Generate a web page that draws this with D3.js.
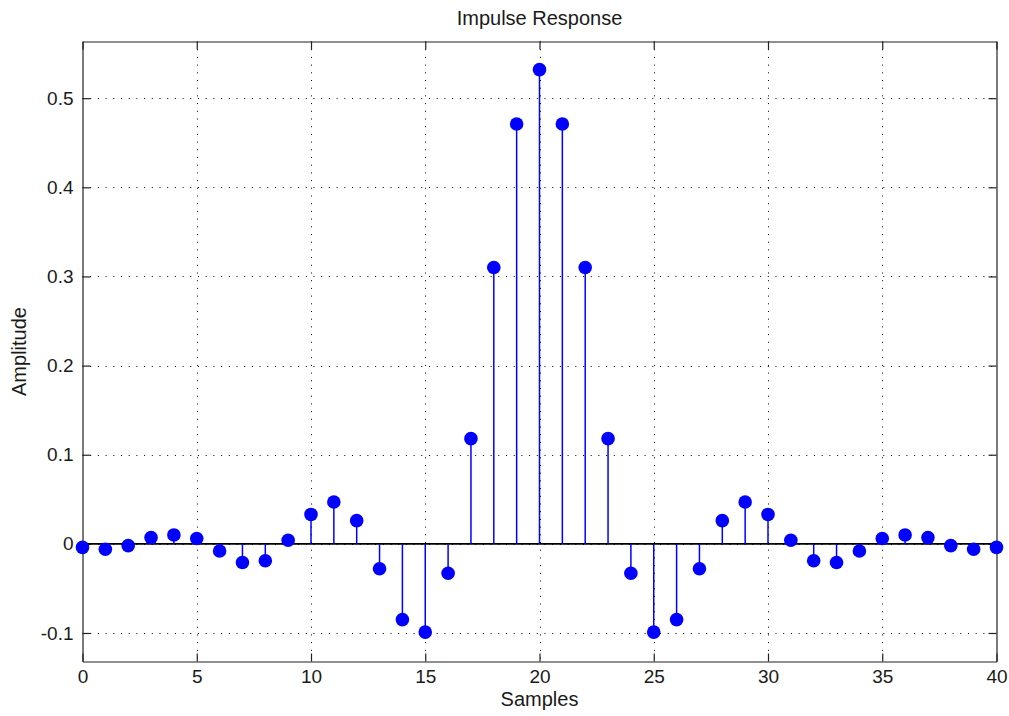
<!DOCTYPE html>
<html>
<head>
<meta charset="utf-8">
<script src="https://cdn.jsdelivr.net/npm/d3@7"></script>
<style>
  html, body { margin: 0; padding: 0; background: #fff; }
  svg { display: block; }
  text { font-family: "Liberation Sans", Arial, "DejaVu Sans", sans-serif; fill: #1a1a1a; }
</style>
</head>
<body>
<svg id="chart" width="1009" height="716"></svg>
<script>
// ---- data ----
const samples = [0,1,2,3,4,5,6,7,8,9,10,11,12,13,14,15,16,17,18,19,20,
                 21,22,23,24,25,26,27,28,29,30,31,32,33,34,35,36,37,38,39,40];
const amplitude = [-0.004,-0.006,-0.002,0.007,0.010,0.006,-0.008,-0.021,-0.019,0.004,
                   0.033,0.047,0.026,-0.028,-0.085,-0.099,-0.033,0.118,0.310,0.471,
                   0.532,
                   0.471,0.310,0.118,-0.033,-0.099,-0.085,-0.028,0.026,0.047,0.033,
                   0.004,-0.019,-0.021,-0.008,0.006,0.010,0.007,-0.002,-0.006,-0.004];
const xTicks = [0,5,10,15,20,25,30,35,40];
const xTickLabels = ["0","5","10","15","20","25","30","35","40"];
const yTicks = [-0.1,0,0.1,0.2,0.3,0.4,0.5];
const yTickLabels = ["-0.1","0","0.1","0.2","0.3","0.4","0.5"];
const xDomain = [0, 40];
const yDomain = [-0.132, 0.5636];
const titleText = "Impulse Response";
const xLabelText = "Samples";
const yLabelText = "Amplitude";

(function () {
// ---- layout ----
const pL = 82.5, pR = 996.5, pT = 41.5, pB = 661.5;

const svg = d3.select("#chart");
const x = d3.scaleLinear().domain(xDomain).range([pL, pR]);
const y = d3.scaleLinear().domain(yDomain).range([pB, pT]);

// grid
const grid = svg.append("g").attr("class", "grid");
grid.selectAll("line.gx")
  .data(xTicks.filter(t => t > xDomain[0] && t < xDomain[1]))
  .join("line")
  .attr("x1", d => Math.round(x(d)) + 0.5).attr("x2", d => Math.round(x(d)) + 0.5)
  .attr("y1", pT).attr("y2", pB)
  .attr("stroke", "#000").attr("stroke-width", 1).attr("stroke-dasharray", "1,6.7");
grid.selectAll("line.gy")
  .data(yTicks)
  .join("line")
  .attr("y1", d => Math.round(y(d)) + 0.5).attr("y2", d => Math.round(y(d)) + 0.5)
  .attr("x1", pL).attr("x2", pR)
  .attr("stroke", "#000").attr("stroke-width", 1).attr("stroke-dasharray", "1,6.7");

// axes (box with inward ticks)
const fmtX = d => xTickLabels[xTicks.indexOf(d)];
const fmtY = d => yTickLabels[yTicks.indexOf(d)];
const axB = svg.append("g").attr("transform", `translate(0,${pB})`)
  .call(d3.axisBottom(x).tickValues(xTicks).tickFormat(fmtX).tickSizeInner(-8).tickSizeOuter(0).tickPadding(8));
const axT = svg.append("g").attr("transform", `translate(0,${pT})`)
  .call(d3.axisTop(x).tickValues(xTicks).tickFormat("").tickSizeInner(-8).tickSizeOuter(0));
const axL = svg.append("g").attr("transform", `translate(${pL},0)`)
  .call(d3.axisLeft(y).tickValues(yTicks).tickFormat(fmtY).tickSizeInner(-8).tickSizeOuter(0).tickPadding(9));
const axR = svg.append("g").attr("transform", `translate(${pR},0)`)
  .call(d3.axisRight(y).tickValues(yTicks).tickFormat("").tickSizeInner(-8).tickSizeOuter(0));
[axB, axT, axL, axR].forEach(a => {
  a.selectAll("path.domain").attr("stroke", "#222").attr("stroke-width", 1.2);
  a.selectAll(".tick line").attr("stroke", "#222").attr("stroke-width", 1.2);
  a.selectAll("text").attr("font-size", "19px").attr("fill", "#1a1a1a")
    .attr("font-family", "'Liberation Sans', Arial, sans-serif");
});
axT.selectAll(".tick text").remove();
axR.selectAll(".tick text").remove();

// baseline
svg.append("line")
  .attr("x1", x(xDomain[0])).attr("x2", x(xDomain[1]))
  .attr("y1", y(0)).attr("y2", y(0))
  .attr("stroke", "#000").attr("stroke-width", 1.6);

// stems
const data = samples.map((s, i) => ({ s, v: amplitude[i] }));
svg.append("g").selectAll("line")
  .data(data).join("line")
  .attr("x1", d => x(d.s)).attr("x2", d => x(d.s))
  .attr("y1", y(0)).attr("y2", d => y(d.v))
  .attr("stroke", "#0000ff").attr("stroke-width", 1.5);

// markers
svg.append("g").selectAll("circle")
  .data(data).join("circle")
  .attr("cx", d => x(d.s)).attr("cy", d => y(d.v))
  .attr("r", 6.8).attr("fill", "#0000ff");

// labels
svg.append("text").attr("x", (pL + pR) / 2).attr("y", 25)
  .attr("text-anchor", "middle").attr("font-size", "20px").text(titleText);
svg.append("text").attr("x", (pL + pR) / 2).attr("y", 706)
  .attr("text-anchor", "middle").attr("font-size", "20px").text(xLabelText);
svg.append("text")
  .attr("transform", `translate(26,${(pT + pB) / 2}) rotate(-90)`)
  .attr("text-anchor", "middle").attr("font-size", "20px").text(yLabelText);
})();
</script>
</body>
</html>
